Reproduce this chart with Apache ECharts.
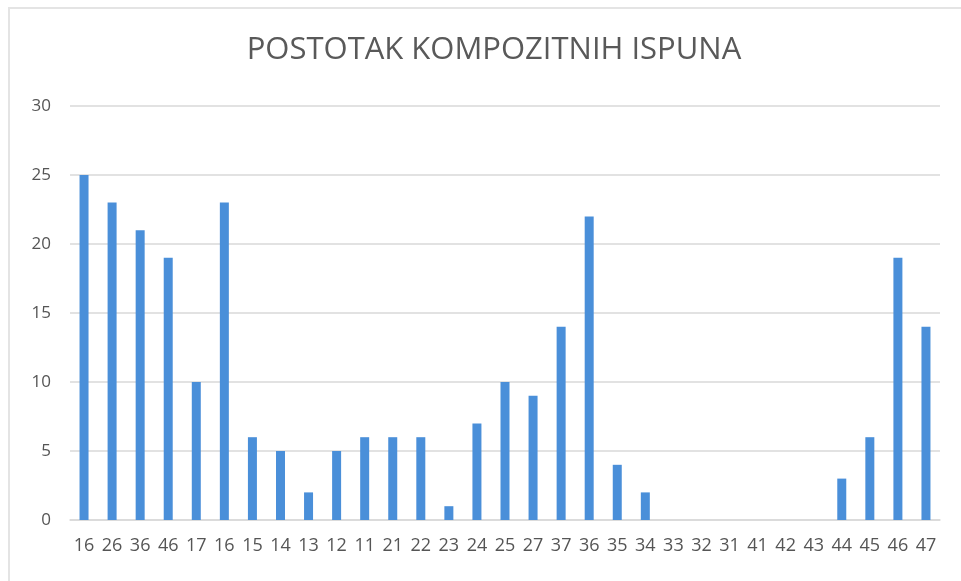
<!DOCTYPE html>
<html>
<head>
<meta charset="utf-8">
<script src="https://cdn.jsdelivr.net/npm/echarts@6/dist/echarts.min.js"></script>
<style>
  html, body { margin: 0; padding: 0; background: #fff; }
  #chart { width: 961px; height: 581px; position: relative; }
  .frame { position: absolute; left: 8px; top: 7px;
           border-left: 2px solid #e4e4e4; border-top: 2px solid #e4e4e4; pointer-events: none; }
</style>
</head>
<body>
<div id="chart"></div>
<div class="frame" style="width:953px;height:574px;"></div>
<script>
const title = 'POSTOTAK KOMPOZITNIH ISPUNA';
const categories = ['16', '26', '36', '46', '17', '16', '15', '14', '13', '12', '11', '21', '22', '23', '24',
  '25', '27', '37', '36', '35', '34', '33', '32', '31', '41', '42', '43', '44', '45', '46', '47'];
const values = [25, 23, 21, 19, 10, 23, 6, 5, 2, 5, 6, 6, 6, 1, 7,
  10, 9, 14, 22, 4, 2, 0, 0, 0, 0, 0, 0, 3, 6, 19, 14];

const chart = echarts.init(document.getElementById('chart'));

chart.setOption({
  animation: false,
  title: {
    text: title,
    left: 489,
    top: 30,
    textAlign: 'center',
    textStyle: {
      fontFamily: 'Open Sans',
      fontWeight: 'normal',
      fontSize: 31,
      color: '#595959',
    },
  },
  grid: {
    left: 70,
    right: 21,
    top: 106,
    bottom: 61,
  },
  xAxis: {
    type: 'category',
    data: categories,
    axisTick: { show: false },
    axisLine: { lineStyle: { color: '#d9d9d9', width: 1.5 } },
    axisLabel: {
      interval: 0,
      margin: 17,
      fontFamily: 'Open Sans',
      fontSize: 18,
      color: '#555555',
    },
  },
  yAxis: {
    type: 'value',
    min: 0,
    max: 30,
    interval: 5,
    axisLine: { show: false },
    axisTick: { show: false },
    axisLabel: {
      margin: 19,
      fontFamily: 'Open Sans',
      fontSize: 17,
      color: '#555555',
    },
    splitLine: { lineStyle: { color: '#d9d9d9', width: 1.5 } },
  },
  series: [
    {
      type: 'bar',
      data: values,
      barWidth: 9,
      itemStyle: { color: '#4a8fd9' },
    },
  ],
});
</script>
</body>
</html>
